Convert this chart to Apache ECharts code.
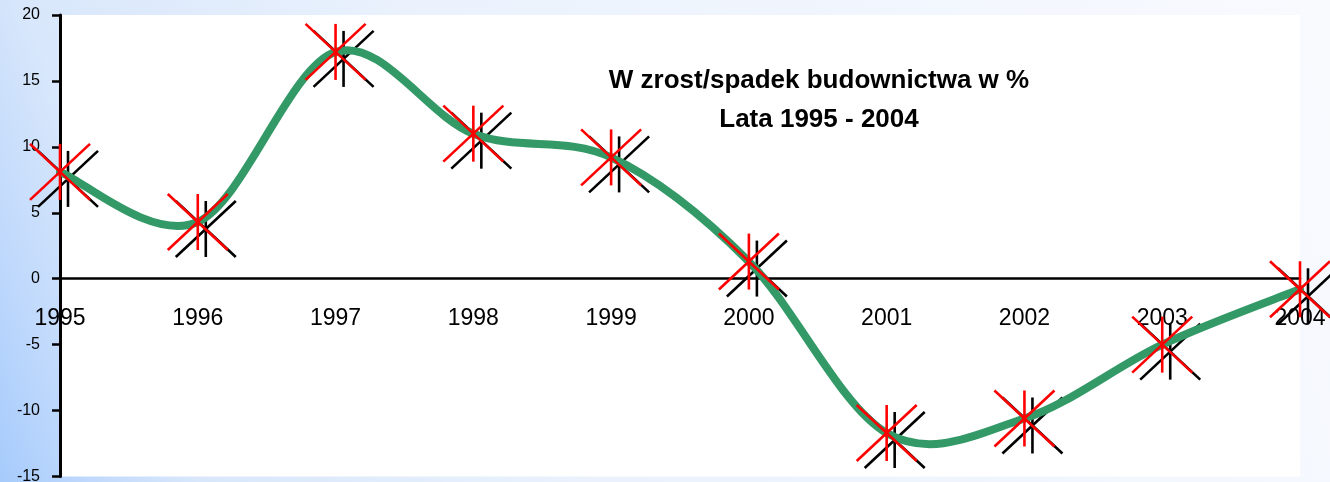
<!DOCTYPE html>
<html>
<head>
<meta charset="utf-8">
<script src="https://cdn.jsdelivr.net/npm/echarts@6/dist/echarts.min.js"></script>
<style>
html,body{margin:0;padding:0;}
#chart{width:1330px;height:482px;}
</style>
</head>
<body>
<div id="chart"></div>
<script>
const years = ['1995','1996','1997','1998','1999','2000','2001','2002','2003','2004'];
const growth = [8.1, 4.3, 17.2, 11.0, 9.2, 1.3, -11.7, -10.6, -5.0, -0.8];
const yTicks = {min: -15, max: 20, interval: 5};
const titleLines = ['W zrost/spadek budownictwa w %', 'Lata 1995 - 2004'];

const GRID_TOP = 15, GRID_BOTTOM = 5.5, H = 482;

function asterisk(color, dx, dy) {
  return function (params, api) {
    const p = api.coord([api.value(0), api.value(1)]);
    const cx = p[0] + dx, cy = p[1] + dy;
    const hw = 30, hh = 28;
    const st = {stroke: color, lineWidth: 2.6};
    return {
      type: 'group',
      children: [
        {type: 'line', shape: {x1: cx - hw, y1: cy - hh, x2: cx + hw, y2: cy + hh}, style: st},
        {type: 'line', shape: {x1: cx - hw, y1: cy + hh, x2: cx + hw, y2: cy - hh}, style: st},
        {type: 'line', shape: {x1: cx, y1: cy - hh, x2: cx, y2: cy + hh}, style: st}
      ]
    };
  };
}

// Excel-like (Catmull-Rom) smoothed segment from point i to i+1
function smoothSegment(params, api) {
  const i = params.dataIndex;
  const n = growth.length;
  if (i >= n - 1) return null;
  const c = (k) => api.coord([Math.max(0, Math.min(n - 1, k)), growth[Math.max(0, Math.min(n - 1, k))]]);
  const p0 = c(i - 1), p1 = c(i), p2 = c(i + 1), p3 = c(i + 2);
  return {
    type: 'bezierCurve',
    shape: {
      x1: p1[0], y1: p1[1],
      cpx1: p1[0] + (p2[0] - p0[0]) / 6, cpy1: p1[1] + (p2[1] - p0[1]) / 6,
      cpx2: p2[0] - (p3[0] - p1[0]) / 6, cpy2: p2[1] - (p3[1] - p1[1]) / 6,
      x2: p2[0], y2: p2[1]
    },
    style: {stroke: '#339966', lineWidth: 8, fill: null, lineCap: 'round'}
  };
}

// offset that moves the category axis from the grid bottom up to value 0
const plotH = H - GRID_TOP - GRID_BOTTOM;
const zeroOffset = -plotH * (0 - yTicks.min) / (yTicks.max - yTicks.min);

const chart = echarts.init(document.getElementById('chart'), null, {renderer: 'canvas'});
const pts = years.map((y, i) => [i, growth[i]]);

chart.setOption({
  animation: false,
  backgroundColor: {
    type: 'linear', x: 0, y: 1, x2: 1, y2: 0,
    colorStops: [
      {offset: 0, color: '#a6cbfc'},
      {offset: 0.06, color: '#c0d9fc'},
      {offset: 0.13, color: '#d8e7fb'},
      {offset: 0.4, color: '#ebf2fd'},
      {offset: 1, color: '#f8fafe'}
    ]
  },
  title: {
    text: titleLines.join('\n'),
    left: 814, top: 56, textAlign: 'center',
    textStyle: {fontFamily: 'Liberation Sans', fontSize: 26, fontWeight: 'bold', color: '#000', lineHeight: 39}
  },
  grid: {left: 60, right: 30, top: GRID_TOP, bottom: GRID_BOTTOM, show: true, backgroundColor: '#ffffff', borderWidth: 0,
         containLabel: false, outerBoundsMode: 'none'},
  xAxis: {
    type: 'category', data: years, boundaryGap: false,
    position: 'bottom', offset: zeroOffset,
    axisLine: {onZero: false, lineStyle: {color: '#000', width: 2.5}},
    axisTick: {show: false},
    axisLabel: {margin: 28, fontFamily: 'Liberation Sans', fontSize: 23, color: '#000'},
    splitLine: {show: false}
  },
  yAxis: {
    type: 'value', min: yTicks.min, max: yTicks.max, interval: yTicks.interval,
    axisLine: {show: true, onZero: false, lineStyle: {color: '#000', width: 3}},
    axisTick: {show: true, length: 8, lineStyle: {color: '#000', width: 2.5}},
    axisLabel: {margin: 20, fontFamily: 'Liberation Sans', fontSize: 16, color: '#000'},
    splitLine: {show: false}
  },
  series: [
    {type: 'custom', z: 1, data: pts, renderItem: asterisk('#000000', 8, 7), clip: false},
    {type: 'custom', z: 2, data: pts, renderItem: smoothSegment, clip: false},
    {type: 'custom', z: 3, data: pts, renderItem: asterisk('#ff0000', 0, 0), clip: false}
  ]
});
</script>
</body>
</html>
